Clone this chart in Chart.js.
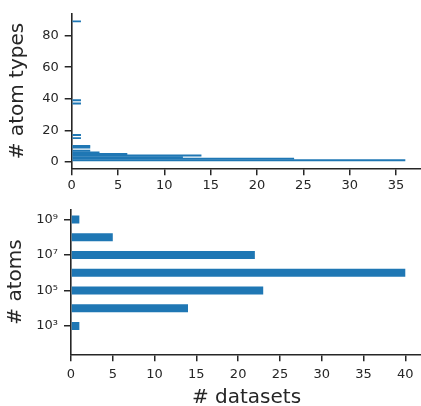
<!DOCTYPE html>
<html><head><meta charset="utf-8">
<script src="https://cdn.jsdelivr.net/npm/chart.js@4.4.0/dist/chart.umd.min.js"></script>
<style>
html,body{margin:0;padding:0;background:#fff;overflow:hidden;width:421px;height:406px;}
#w1{position:absolute;left:0;top:0;width:424px;height:196px;}
#w2{position:absolute;left:0;top:196px;width:424px;height:216px;}
</style></head><body>
<div id="w1"><canvas id="c1"></canvas></div>
<div id="w2"><canvas id="c2"></canvas></div>
<script>
// ---- data: top panel (histogram of number of atom types) ----
const atomTypes = [1, 2, 3, 4, 5, 6, 7, 9, 10, 15, 17, 37, 39, 89];
const atomTypeCounts = [36, 24, 12, 14, 6, 3, 2, 2, 2, 1, 1, 1, 1, 1];
const atomTypeTicks = [0, 20, 40, 60, 80];
const topCountTicks = [0, 5, 10, 15, 20, 25, 30, 35];
// ---- data: bottom panel (histogram of number of atoms, log10 bins) ----
const atomExponents = [3, 4, 5, 6, 7, 8, 9];
const datasetCounts = [1, 14, 23, 40, 22, 5, 1];
const exponentTicks = [3, 5, 7, 9];
const bottomCountTicks = [0, 5, 10, 15, 20, 25, 30, 35, 40];

const SUP = {'0':'⁰','1':'¹','2':'²','3':'³','4':'⁴','5':'⁵','6':'⁶','7':'⁷','8':'⁸','9':'⁹','-':'⁻'};
const pow10Label = e => '10' + String(e).split('').map(c => SUP[c]).join('');

Chart.defaults.font.family = "'DejaVu Sans', sans-serif";
const INK = '#262626';
const BAR = '#1f77b4';

function axisStyle(tickFont, pad) {
  return {
    grid: {display: true, drawOnChartArea: false, drawTicks: true, tickLength: 7, color: INK, lineWidth: 1.5, offset: false},
    border: {display: true, color: INK, width: 1.6},
    ticks: {color: INK, font: {size: tickFont}, padding: pad}
  };
}
const setTicks = arr => s => { s.ticks = arr.map(v => ({value: v})); };

// ---------- top chart ----------
const xTop = axisStyle(13, 3);
const yTop = axisStyle(13, 6);
new Chart(document.getElementById('c1'), {
  type: 'bar',
  data: {datasets: [{
    data: atomTypes.map((t, i) => ({x: atomTypeCounts[i], y: t})),
    backgroundColor: BAR, borderWidth: 0, barPercentage: 1.2, categoryPercentage: 1
  }]},
  options: {
    indexAxis: 'y', responsive: true, maintainAspectRatio: false, animation: false,
    layout: {padding: {top: 12.7, right: 2, left: 0, bottom: 0}},
    plugins: {legend: {display: false}, tooltip: {enabled: false}},
    scales: {
      x: Object.assign({}, xTop, {
        type: 'linear', position: 'bottom', min: 0, max: 37.8,
        afterBuildTicks: setTicks(topCountTicks),
        afterFit: s => { s.height = 196 - 168.3; }
      }),
      y: Object.assign({}, yTop, {
        type: 'linear', position: 'left', min: -4.1, max: 93.8, offset: false,
        afterBuildTicks: setTicks(atomTypeTicks),
        afterFit: s => { s.width = 71.7; },
        title: {display: true, text: '# atom types', color: INK, font: {size: 20}, padding: {top: 6, bottom: 0}}
      })
    }
  }
});

// ---------- bottom chart ----------
const xBot = axisStyle(13, 5.5);
const yBot = axisStyle(13, 6);
yBot.ticks.callback = v => pow10Label(v);
new Chart(document.getElementById('c2'), {
  type: 'bar',
  data: {datasets: [{
    data: atomExponents.map((e, i) => ({x: datasetCounts[i], y: e})),
    backgroundColor: BAR, borderWidth: 0, barPercentage: 0.45, categoryPercentage: 1
  }]},
  options: {
    indexAxis: 'y', responsive: true, maintainAspectRatio: false, animation: false,
    layout: {padding: {top: 3.3, right: 2, left: 0, bottom: 0}},
    plugins: {legend: {display: false}, tooltip: {enabled: false}},
    scales: {
      x: Object.assign({}, xBot, {
        type: 'linear', position: 'bottom', min: 0, max: 42,
        afterBuildTicks: setTicks(bottomCountTicks),
        afterFit: s => { s.height = 216 - 158.3; },
        title: {display: true, text: '# datasets', color: INK, font: {size: 20}, padding: {top: 0, bottom: 2.4}}
      }),
      y: Object.assign({}, yBot, {
        type: 'linear', position: 'left', min: 1.4, max: 9.55, offset: false,
        afterBuildTicks: setTicks(exponentTicks),
        afterFit: s => { s.width = 71; },
        title: {display: true, text: '# atoms', color: INK, font: {size: 20}, padding: {top: 4, bottom: 0}}
      })
    }
  }
});
</script>
</body></html>
